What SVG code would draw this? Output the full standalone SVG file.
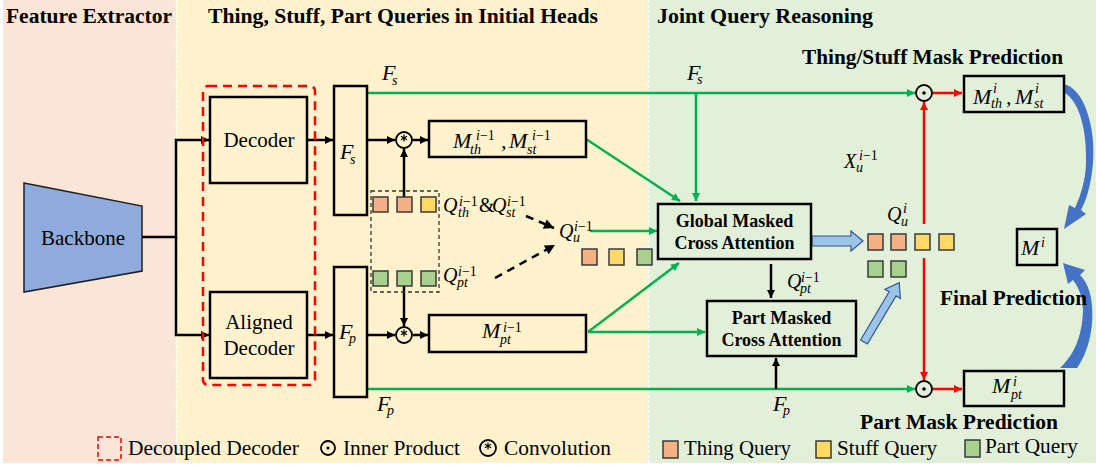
<svg xmlns="http://www.w3.org/2000/svg" width="1096" height="466" viewBox="0 0 1096 466">
<style>
.ttl{font-family:"Liberation Serif","Times New Roman",serif;font-weight:bold;font-size:20px;fill:#000}
.lbl{font-family:"Liberation Serif","Times New Roman",serif;font-size:21px;fill:#000}
.bl{font-family:"Liberation Serif","Times New Roman",serif;font-weight:bold;font-size:18px;fill:#000}
.mi{font-family:"Liberation Serif","Times New Roman",serif;font-style:italic;font-size:22px;fill:#000}
.mq{font-family:"Liberation Serif","Times New Roman",serif;font-style:italic;font-size:20px;fill:#000}
.ms{font-style:italic;font-size:14px}
.up{font-style:normal}
.box{fill:none;stroke:#000;stroke-width:2.5}
.kl{stroke:#000;stroke-width:2.5;fill:none}
.kd{stroke:#000;stroke-width:2.5;fill:none;stroke-dasharray:8 6}
.gl{stroke:#00B050;stroke-width:2.5;fill:none}
.rl{stroke:#FF0000;stroke-width:2.5;fill:none}
.qt{fill:#F4B183;stroke:#3a3a3a;stroke-width:1.5}
.qs{fill:#FFD966;stroke:#3a3a3a;stroke-width:1.5}
.qp{fill:#A9D18E;stroke:#3a3a3a;stroke-width:1.5}
.op{fill:none;stroke:#000;stroke-width:1.8}
.sep{stroke:#fff;stroke-width:1.5;stroke-dasharray:3 2}
.blk{fill:#9DC3E6;stroke:#2F5597;stroke-width:1.2}
.crv{fill:#4472C4}
</style>
<defs>
<marker id="ak" viewBox="0 0 10 10" refX="10" refY="5" markerWidth="9" markerHeight="8" markerUnits="userSpaceOnUse" orient="auto"><path d="M0,0 L10,5 L0,10 z" fill="#000"/></marker>
<marker id="ag" viewBox="0 0 10 10" refX="10" refY="5" markerWidth="9" markerHeight="8" markerUnits="userSpaceOnUse" orient="auto"><path d="M0,0 L10,5 L0,10 z" fill="#00B050"/></marker>
<marker id="ar" viewBox="0 0 10 10" refX="10" refY="5" markerWidth="9" markerHeight="8" markerUnits="userSpaceOnUse" orient="auto"><path d="M0,0 L10,5 L0,10 z" fill="#FF0000"/></marker>
<marker id="akd" viewBox="0 0 10 10" refX="10" refY="5" markerWidth="11" markerHeight="10" markerUnits="userSpaceOnUse" orient="auto"><path d="M0,0 L10,5 L0,10 z" fill="#000"/></marker>
</defs>

<!-- stage panels -->
<g id="panels">
<rect x="3" y="0" width="173" height="463" fill="#FBE5D6"/>
<rect x="176" y="0" width="472" height="463" fill="#FFF2CC"/>
<rect x="648" y="0" width="448" height="463" fill="#E2F0D9"/>
<line class="sep" x1="176.5" y1="0" x2="176.5" y2="463"/>
<line class="sep" x1="648.5" y1="0" x2="648.5" y2="463"/>
<text class="ttl" x="6" y="23" textLength="166" lengthAdjust="spacingAndGlyphs">Feature Extractor</text>
<text class="ttl" x="208" y="23" textLength="390" lengthAdjust="spacingAndGlyphs">Thing, Stuff, Part Queries in Initial Heads</text>
<text class="ttl" x="657" y="23" textLength="216" lengthAdjust="spacingAndGlyphs">Joint Query Reasoning</text>
<text class="ttl" x="802" y="64" textLength="261" lengthAdjust="spacingAndGlyphs">Thing/Stuff Mask Prediction</text>
<text class="ttl" x="860" y="429" textLength="198" lengthAdjust="spacingAndGlyphs">Part Mask Prediction</text>
</g>

<!-- connectors -->
<g id="connectors">
<path class="kl" d="M142,237 H176 V140 H209" marker-end="url(#ak)"/>
<path class="kl" d="M176,237 V335 H209" marker-end="url(#ak)"/>
<path class="kl" d="M307,140 H333" marker-end="url(#ak)"/>
<path class="kl" d="M307,335 H333" marker-end="url(#ak)"/>
<path class="kl" d="M367,140 H395" marker-end="url(#ak)"/>
<path class="kl" d="M413,140 H428" marker-end="url(#ak)"/>
<path class="kl" d="M367,335 H395" marker-end="url(#ak)"/>
<path class="kl" d="M413,335 H428" marker-end="url(#ak)"/>
<path class="kl" d="M404,197 V149" marker-end="url(#ak)"/>
<path class="kl" d="M404,286 V326" marker-end="url(#ak)"/>
<path class="kd" d="M526,216 L554,228" marker-end="url(#akd)"/>
<path class="kd" d="M495,278 L555,245" marker-end="url(#akd)"/>
<path class="gl" d="M367,93 H915" marker-end="url(#ag)"/>
<path class="gl" d="M696,93 V201" marker-end="url(#ag)"/>
<path class="gl" d="M586,139 L680,201" marker-end="url(#ag)"/>
<path class="gl" d="M588,332 L679,263" marker-end="url(#ag)"/>
<path class="gl" d="M588,332 H705" marker-end="url(#ag)"/>
<path class="gl" d="M590,231 H657" marker-end="url(#ag)"/>
<path class="gl" d="M367,389 H915" marker-end="url(#ag)"/>
<path class="kl" d="M771,264 V298" marker-end="url(#ak)"/>
<path class="kl" d="M776,389 V358" marker-end="url(#ak)"/>
<path class="rl" d="M924,224 V102" marker-end="url(#ar)"/>
<path class="rl" d="M924,258 V380" marker-end="url(#ar)"/>
<path class="rl" d="M932,93 H962" marker-end="url(#ar)"/>
<path class="rl" d="M932,389 H962" marker-end="url(#ar)"/>
<!-- wide query-flow arrows -->
<path class="blk" d="M812,236 H851 V231 L863,241 L851,251 V246 H812 Z"/>
<path class="blk" transform="translate(864,342) rotate(-59.3)" d="M0,-4 H56 V-9 L69,0 L56,9 V4 H0 Z"/>
<!-- final prediction merge arrows -->
<path class="crv" d="M1063,84 C1084,87 1096,128 1093,163 C1091,186 1086,201 1081,210 L1086,214 L1064,229 L1069,205 L1075,208 C1080,197 1086,180 1086,162 C1087,127 1078,99 1063,92 Z"/>
<path class="crv" d="M1060,368 L1077,368 C1090,350 1095,322 1091,298 C1089,287 1085,280 1080,275 L1085,270 L1063,263 L1068,284 L1073,280 C1080,289 1083,300 1083,311 C1082,338 1073,356 1060,368 Z"/>
</g>

<g id="final-title">
<text class="ttl" x="940" y="305" textLength="147" lengthAdjust="spacingAndGlyphs">Final Prediction</text>
</g>

<!-- backbone -->
<g id="backbone">
<polygon points="24,183 142,206 142,271 24,292" fill="#8FAADC" stroke="#1f1f1f" stroke-width="1.5"/>
<text class="lbl" x="83" y="245" text-anchor="middle">Backbone</text>
</g>

<!-- decoupled decoder -->
<g id="decoupled-decoder">
<rect x="203" y="86" width="112" height="299" rx="5" fill="none" stroke="#FF0000" stroke-width="2.5" stroke-dasharray="9 6"/>
</g>
<g id="decoder">
<rect class="box" x="210" y="97" width="97" height="86"/>
<text class="lbl" x="259" y="147" text-anchor="middle">Decoder</text>
</g>
<g id="aligned-decoder">
<rect class="box" x="210" y="292" width="97" height="86"/>
<text class="lbl" x="259" y="329" text-anchor="middle">Aligned</text>
<text class="lbl" x="259" y="355" text-anchor="middle">Decoder</text>
</g>

<!-- feature maps -->
<g id="feat-s">
<rect class="box" x="334" y="86" width="33" height="129"/>
<text class="mi" x="340" y="159">F<tspan class="ms" x="350" y="164">s</tspan></text>
<text class="mi" x="382" y="80">F<tspan class="ms" x="392" y="85">s</tspan></text>
</g>
<g id="feat-p">
<rect class="box" x="334" y="267" width="33" height="130"/>
<text class="mi" x="339" y="339">F<tspan class="ms" x="349" y="343">p</tspan></text>
<text class="mi" x="377" y="411">F<tspan class="ms" x="387" y="415">p</tspan></text>
</g>

<!-- convolution ops -->
<g id="conv-s">
<circle class="op" cx="404" cy="140" r="8"/>
<path d="M404,134.5 V141.5 M401,136.3 L407,139.7 M407,136.3 L401,139.7" stroke="#000" stroke-width="1.2"/>
</g>
<g id="conv-p">
<circle class="op" cx="404" cy="335" r="8"/>
<path d="M404,329.5 V336.5 M401,331.3 L407,334.7 M407,331.3 L401,334.7" stroke="#000" stroke-width="1.2"/>
</g>

<!-- initial masks -->
<g id="mask-ts-prev">
<rect class="box" x="429" y="121" width="157" height="36"/>
<text class="mi" x="453" y="148">M<tspan class="ms" x="476" y="140">i<tspan class="up">−1</tspan></tspan><tspan class="ms" x="470" y="154">th</tspan><tspan x="501" y="148">,</tspan><tspan x="509" y="148">M</tspan><tspan class="ms" x="532" y="140">i<tspan class="up">−1</tspan></tspan><tspan class="ms" x="527" y="154">st</tspan></text>
</g>
<g id="mask-pt-prev">
<rect class="box" x="429" y="315" width="157" height="37"/>
<text class="mi" x="482" y="338">M<tspan class="ms" x="503" y="332">i<tspan class="up">−1</tspan></tspan><tspan class="ms" x="500" y="344">pt</tspan></text>
</g>

<!-- previous-layer queries -->
<g id="queries-prev">
<rect x="371" y="191" width="68" height="101" fill="none" stroke="#333" stroke-width="1.3" stroke-dasharray="4 3"/>
<rect class="qt" x="373" y="197" width="15" height="15"/>
<rect class="qt" x="397" y="197" width="15" height="15"/>
<rect class="qs" x="421" y="197" width="15" height="15"/>
<rect class="qp" x="373" y="271" width="15" height="15"/>
<rect class="qp" x="397" y="271" width="15" height="15"/>
<rect class="qp" x="421" y="271" width="15" height="15"/>
<text class="mq" x="443" y="212">Q<tspan class="ms" x="459" y="206">i<tspan class="up">−1</tspan></tspan><tspan class="ms" x="458" y="217">th</tspan><tspan class="up" x="479" y="212">&amp;</tspan><tspan x="492" y="212">Q</tspan><tspan class="ms" x="507" y="206">i<tspan class="up">−1</tspan></tspan><tspan class="ms" x="506" y="217">st</tspan></text>
<text class="mq" x="443" y="282">Q<tspan class="ms" x="458" y="276">i<tspan class="up">−1</tspan></tspan><tspan class="ms" x="457" y="287">pt</tspan></text>
</g>

<g id="query-union-prev">
<text class="mq" x="559" y="238">Q<tspan class="ms" x="574" y="231">i<tspan class="up">−1</tspan></tspan><tspan class="ms" x="573" y="242">u</tspan></text>
<rect class="qt" x="582" y="249" width="15" height="16"/>
<rect class="qs" x="609" y="249" width="15" height="16"/>
<rect class="qp" x="637" y="249" width="15" height="16"/>
</g>

<!-- attention blocks -->
<g id="global-attn">
<rect class="box" x="658" y="204" width="153" height="55"/>
<text class="bl" x="734.5" y="227" text-anchor="middle">Global Masked</text>
<text class="bl" x="734.5" y="249" text-anchor="middle">Cross Attention</text>
</g>
<g id="part-attn">
<rect class="box" x="707" y="301" width="149" height="55"/>
<text class="bl" x="781.5" y="324" text-anchor="middle">Part Masked</text>
<text class="bl" x="781.5" y="346" text-anchor="middle">Cross Attention</text>
</g>
<g id="labels-joint">
<text class="mi" x="687" y="80">F<tspan class="ms" x="697" y="84">s</tspan></text>
<text class="mi" x="773" y="411">F<tspan class="ms" x="783" y="415">p</tspan></text>
<text class="mq" x="787" y="288">Q<tspan class="ms" x="801" y="282">i<tspan class="up">−1</tspan></tspan><tspan class="ms" x="800" y="293">pt</tspan></text>
<text class="mq" x="844" y="168" font-size="18">X<tspan class="ms" x="859" y="160" font-size="13">i<tspan class="up">−1</tspan></tspan><tspan class="ms" x="856" y="172" font-size="13">u</tspan></text>
</g>

<!-- updated queries -->
<g id="queries-new">
<text class="mq" x="887" y="221">Q<tspan class="ms" x="903" y="213">i</tspan><tspan class="ms" x="901" y="226">u</tspan></text>
<rect class="qt" x="868" y="234" width="15" height="16"/>
<rect class="qt" x="891" y="234" width="15" height="16"/>
<rect class="qs" x="915" y="234" width="15" height="16"/>
<rect class="qs" x="939" y="234" width="15" height="16"/>
<rect class="qp" x="868" y="261" width="15" height="16"/>
<rect class="qp" x="891" y="261" width="15" height="16"/>
</g>

<!-- inner products -->
<g id="dot-ts">
<circle class="op" cx="924" cy="93" r="8"/>
<circle cx="924" cy="93" r="1.8" fill="#000"/>
</g>
<g id="dot-pt">
<circle class="op" cx="924" cy="389" r="8"/>
<circle cx="924" cy="389" r="1.8" fill="#000"/>
</g>

<!-- mask outputs -->
<g id="mask-ts">
<rect class="box" x="964" y="76" width="100" height="36"/>
<text class="mi" x="973" y="104">M<tspan class="ms" x="993" y="93">i</tspan><tspan class="ms" x="991" y="108">th</tspan><tspan x="1006" y="104">,</tspan><tspan x="1015" y="104">M</tspan><tspan class="ms" x="1035" y="93">i</tspan><tspan class="ms" x="1034" y="108">st</tspan></text>
</g>
<g id="mask-pt">
<rect class="box" x="964" y="371" width="100" height="35"/>
<text class="mi" x="992" y="393">M<tspan class="ms" x="1013" y="386">i</tspan><tspan class="ms" x="1011" y="399">pt</tspan></text>
</g>
<g id="mask-final">
<rect class="box" x="1017" y="229" width="40" height="36"/>
<text class="mi" x="1021" y="255">M<tspan class="ms" x="1041" y="247">i</tspan></text>
</g>

<!-- legend -->
<g id="legend">
<rect x="98" y="437" width="23" height="23" fill="none" stroke="#FF0000" stroke-width="1.5" stroke-dasharray="5 3"/>
<text class="lbl" x="128" y="455" textLength="171" lengthAdjust="spacingAndGlyphs">Decoupled Decoder</text>
<circle class="op" cx="328" cy="448" r="7"/>
<circle cx="328" cy="448" r="1.6" fill="#000"/>
<text class="lbl" x="343" y="455" textLength="117" lengthAdjust="spacingAndGlyphs">Inner Product</text>
<circle class="op" cx="488" cy="448" r="8"/>
<path d="M488,442.5 V449.5 M485,444.3 L491,447.7 M491,444.3 L485,447.7" stroke="#000" stroke-width="1.2"/>
<text class="lbl" x="504" y="455" textLength="107" lengthAdjust="spacingAndGlyphs">Convolution</text>
<rect class="qt" x="663" y="441" width="15" height="17"/>
<text class="lbl" x="684" y="455" textLength="107" lengthAdjust="spacingAndGlyphs">Thing Query</text>
<rect class="qs" x="816" y="441" width="15" height="17"/>
<text class="lbl" x="837" y="455" textLength="100" lengthAdjust="spacingAndGlyphs">Stuff Query</text>
<rect class="qp" x="965" y="440" width="15" height="17"/>
<text class="lbl" x="985" y="453" textLength="93" lengthAdjust="spacingAndGlyphs">Part Query</text>
</g>
</svg>
